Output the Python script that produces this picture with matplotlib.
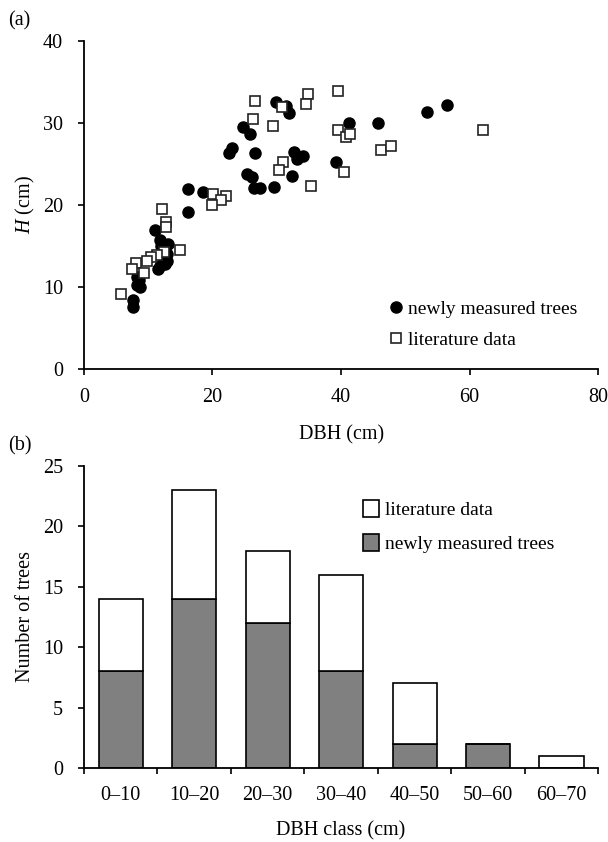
"""Tree height vs DBH scatter (a) and DBH class histogram (b)."""
import numpy as np
import matplotlib
matplotlib.use('Agg')
import matplotlib.pyplot as plt

plt.rcParams['font.family'] = ['Liberation Serif', 'DejaVu Serif']
plt.rcParams['mathtext.fontset'] = 'custom'
plt.rcParams['mathtext.rm'] = 'Liberation Serif'
plt.rcParams['mathtext.it'] = 'Liberation Serif:italic'

# (a) newly measured trees: DBH (cm), H
new_dbh = [29.9, 31.5, 31.9, 24.7, 25.8, 23.1, 22.6, 26.6, 32.6, 33.1, 34.0, 32.4,
           25.3, 26.1, 26.5, 27.4, 29.6, 16.2, 18.5, 16.2, 41.2, 45.7, 53.3, 56.5,
           39.2, 11.1, 11.9, 13.1, 12.5, 12.9, 11.9, 11.5, 8.3, 8.8, 8.3, 7.6, 7.7,
           12.3, 12.6, 13.0, 8.6, 12.0]
new_h = [32.5, 32.1, 31.2, 29.5, 28.7, 27.0, 26.4, 26.3, 26.5, 25.6, 26.0, 23.5,
         23.8, 23.4, 22.1, 22.1, 22.2, 22.0, 21.6, 19.1, 30.0, 30.0, 31.4, 32.2,
         25.3, 17.0, 15.7, 15.2, 14.9, 13.2, 12.6, 12.2, 11.2, 10.0, 10.3, 8.4, 7.6,
         13.5, 12.8, 14.0, 10.8, 15.0]

# (a) literature data
lit_dbh = [39.5, 62.1, 39.5, 40.8, 41.4, 46.2, 47.7, 40.4, 34.8, 34.5, 26.6, 30.8,
           26.3, 29.4, 30.9, 30.4, 35.3, 20.1, 22.1, 21.3, 19.9, 12.1, 12.7, 12.7,
           15.0, 12.5, 11.3, 10.4, 9.8, 8.1, 7.5, 9.4, 5.8]
lit_h = [33.9, 29.1, 29.1, 28.3, 28.7, 26.7, 27.2, 24.0, 33.5, 32.3, 32.7, 32.0,
         30.5, 29.6, 25.3, 24.3, 22.3, 21.4, 21.1, 20.6, 20.0, 19.5, 17.9, 17.3,
         14.5, 14.3, 13.9, 13.7, 13.2, 12.9, 12.2, 11.7, 9.2]

# (b) counts per DBH class
classes = ['0–10', '10–20', '20–30', '30–40', '40–50', '50–60', '60–70']
n_new = [8, 14, 12, 8, 2, 2, 0]
n_lit = [6, 9, 6, 8, 5, 0, 1]

fig = plt.figure(figsize=(6.08, 8.42), dpi=100)
fs = 14.5
lfs = 14

# === (a) scatter ===
ax = fig.add_axes([0.138, 0.5618, 0.846, 0.3895])
ax.plot(new_dbh, new_h, 'o', color='black', ms=8, ls='none',
        label='newly measured trees')
ax.plot(lit_dbh, lit_h, 's', mfc='white', mec='#222222', mew=1.2, ms=7.5,
        ls='none', label='literature data')
ax.set_xlim(0, 80); ax.set_ylim(0, 40)
ax.set_xticks([0, 20, 40, 60, 80]); ax.set_yticks([0, 10, 20, 30, 40])
for s in ['top', 'right']:
    ax.spines[s].set_visible(False)
ax.spines['left'].set_linewidth(1.3); ax.spines['bottom'].set_linewidth(1.3)
ax.tick_params(direction='out', length=4, width=1.2, labelsize=fs)
ax.tick_params(axis='x', pad=10)
ax.tick_params(axis='y', pad=11)
ax.set_xlabel('DBH (cm)', fontsize=fs, labelpad=13)
ax.set_ylabel(r'$\mathit{H}$ (cm)', fontsize=fs, labelpad=4)
ax.legend(loc='lower right', frameon=False, fontsize=lfs, handletextpad=0.1,
          handlelength=1.0, borderaxespad=0.3, labelspacing=0.7,
          bbox_to_anchor=(0.985, 0.02))
fig.text(0.013, 0.975, '(a)', fontsize=fs, va='center')

# === (b) stacked bars ===
bx = fig.add_axes([0.138, 0.0879, 0.846, 0.3587])
x = np.arange(len(classes))
bx.bar(x, n_new, width=0.6, color='#808080', edgecolor='black', lw=1.2,
       label='newly measured trees')
bx.bar(x, n_lit, bottom=n_new, width=0.6, color='white', edgecolor='black',
       lw=1.2, label='literature data')
bx.set_xlim(-0.5, len(classes) - 0.5); bx.set_ylim(0, 25)
bx.set_yticks([0, 5, 10, 15, 20, 25])
bx.set_xticks(x); bx.set_xticklabels(classes)
bx.set_xticks(np.arange(len(classes) + 1) - 0.5, minor=True)
bx.tick_params(axis='x', which='major', length=0, pad=13, labelsize=fs)
bx.tick_params(axis='x', which='minor', direction='out', length=4, width=1.2)
bx.tick_params(axis='y', direction='out', length=4, width=1.2, labelsize=fs,
               pad=11)
for s in ['top', 'right']:
    bx.spines[s].set_visible(False)
bx.spines['left'].set_linewidth(1.3); bx.spines['bottom'].set_linewidth(1.3)
bx.set_xlabel('DBH class (cm)', fontsize=fs, labelpad=12)
bx.set_ylabel('Number of trees', fontsize=fs, labelpad=6)
h, l = bx.get_legend_handles_labels()
bx.legend(h[::-1], l[::-1], loc='upper right', frameon=False, fontsize=lfs,
          handletextpad=0.3, handlelength=0.8, handleheight=1.0,
          labelspacing=0.75, bbox_to_anchor=(0.948, 0.945))
fig.text(0.013, 0.47, '(b)', fontsize=fs, va='center')

fig.savefig('out.png', dpi=100)
plt.close(fig)
print('Saved out.png')
